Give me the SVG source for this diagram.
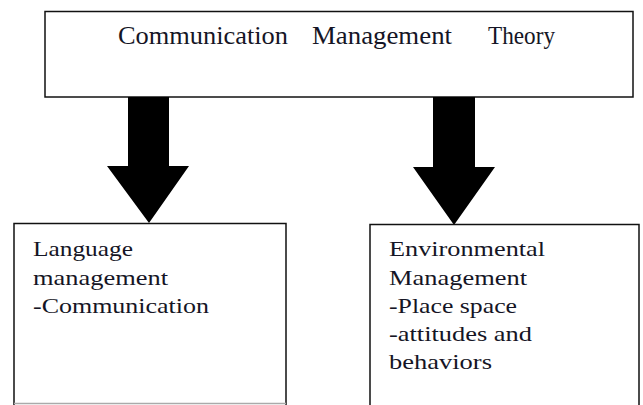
<svg xmlns="http://www.w3.org/2000/svg" width="643" height="405" viewBox="0 0 643 405">
<style>
.box{fill:#fff;stroke:#111;stroke-width:1.5}
.t{font-family:"Liberation Serif","Times New Roman",serif;fill:#151525;lengthAdjust:spacing}
.top{font-size:25px}
.sub{font-size:22px}
.arrow{fill:#000;stroke:none}
</style>
<rect width="643" height="405" fill="#fff"/>
<g id="theory">
<rect class="box" x="45" y="11.5" width="588" height="85.5"/>
<text class="t top" x="118" y="44" textLength="170" lengthAdjust="spacingAndGlyphs">Communication</text>
<text class="t top" x="312" y="44" textLength="140" lengthAdjust="spacingAndGlyphs">Management</text>
<text class="t top" x="488" y="44" textLength="67" lengthAdjust="spacingAndGlyphs">Theory</text>
</g>
<g id="connectors">
<polygon class="arrow" points="128,97 169,97 169,166 189,166 149,223 107,166 128,166"/>
<polygon class="arrow" points="433,97 475,97 475,167 495,167 454,225 413,167 433,167"/>
</g>
<g id="language">
<path d="M14,405 V223.5 H286 V405" fill="#fff" stroke="#111" stroke-width="1.5"/>
<line x1="14" y1="403.5" x2="286" y2="403.5" stroke="#aaa" stroke-width="1.5"/>
<text class="t sub" x="33" y="256" textLength="100" lengthAdjust="spacingAndGlyphs">Language</text>
<text class="t sub" x="33" y="285" textLength="135" lengthAdjust="spacingAndGlyphs">management</text>
<text class="t sub" x="33" y="313" textLength="176" lengthAdjust="spacingAndGlyphs">-Communication</text>
</g>
<g id="environmental">
<path d="M370,405 V224.5 H639 V405" fill="#fff" stroke="#111" stroke-width="1.5"/>
<text class="t sub" x="389" y="256" textLength="156" lengthAdjust="spacingAndGlyphs">Environmental</text>
<text class="t sub" x="389" y="285" textLength="138" lengthAdjust="spacingAndGlyphs">Management</text>
<text class="t sub" x="389" y="313" textLength="128" lengthAdjust="spacingAndGlyphs">-Place space</text>
<text class="t sub" x="389" y="341" textLength="143" lengthAdjust="spacingAndGlyphs">-attitudes and</text>
<text class="t sub" x="389" y="369" textLength="103" lengthAdjust="spacingAndGlyphs">behaviors</text>
</g>
</svg>
